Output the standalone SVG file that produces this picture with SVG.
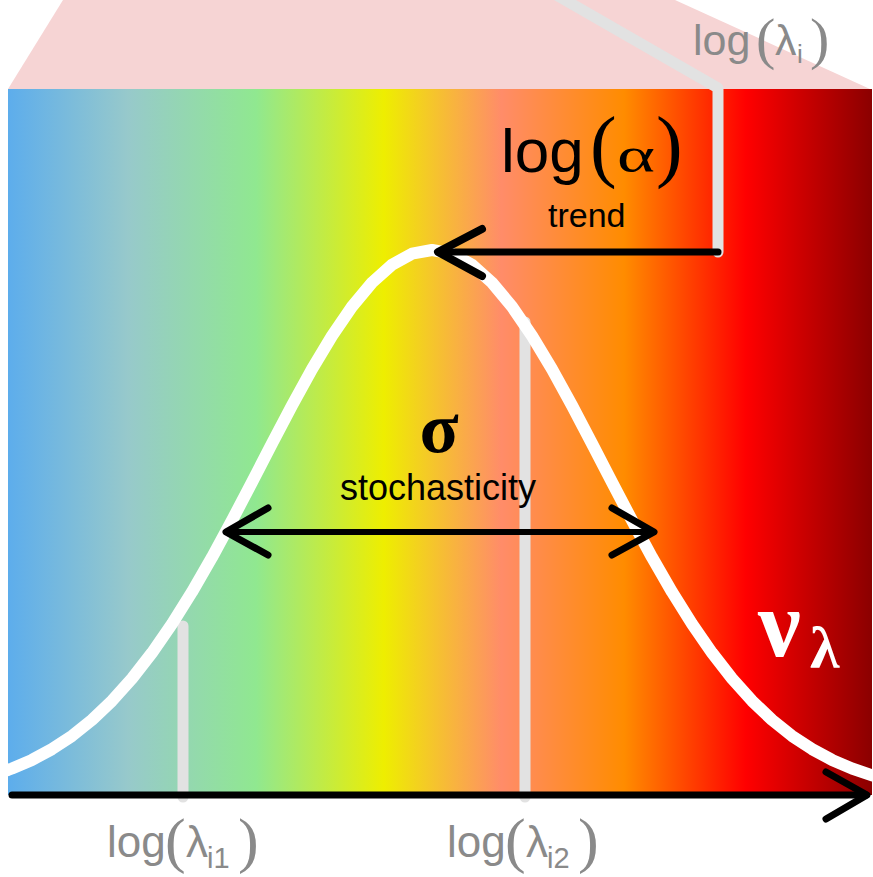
<svg xmlns="http://www.w3.org/2000/svg" width="873" height="877" viewBox="0 0 873 877">
<style>
.sans{font-family:"Liberation Sans",Arial,sans-serif}
.serif{font-family:"Liberation Serif","Times New Roman",serif}
.grey{fill:#8a8a8a}
.blk{fill:#000}
.guide{fill:none;stroke:#e2e2e2;stroke-width:11;stroke-linecap:round;stroke-linejoin:round}
.arrow{fill:none;stroke:#000;stroke-linecap:round;stroke-linejoin:round}
.curve{fill:none;stroke:#fff;stroke-width:12;stroke-linejoin:round}
</style>
<defs>
<linearGradient id="spec" x1="8" y1="0" x2="872" y2="0" gradientUnits="userSpaceOnUse">
<stop offset="0" stop-color="#5DADEC"/>
<stop offset="0.139" stop-color="#97C9CB"/>
<stop offset="0.287" stop-color="#90E890"/>
<stop offset="0.435" stop-color="#EEEE00"/>
<stop offset="0.571" stop-color="#FF8C69"/>
<stop offset="0.713" stop-color="#FF8C00"/>
<stop offset="0.854" stop-color="#FF0000"/>
<stop offset="1" stop-color="#8B0000"/>
</linearGradient>
<clipPath id="clip"><rect x="8" y="89" width="864" height="706"/></clipPath>
</defs>
<g id="background">
<polygon points="8,89 63,0 675,0 870,89" fill="#F6D4D4"/>
<rect x="8" y="89" width="864" height="706" fill="url(#spec)"/>
</g>
<g id="connectors">
<polyline class="guide" points="558,-4 718,88 718,252"/>
<line class="guide" x1="183" y1="626" x2="183" y2="797"/>
<line class="guide" x1="525" y1="322" x2="525" y2="797"/>
</g>
<g id="curve" clip-path="url(#clip)">
<path class="curve" d="M2,772 L8,770 L12,768.5 L32,759.9 L52,749.1 L72,735.9 L92,719.9 L112,700.8 L132,678.5 L152,652.8 L172,623.9 L192,591.9 L212,557.3 L232,520.4 L252,482.2 L272,443.6 L292,405.5 L312,369.2 L332,335.9 L352,306.6 L372,282.6 L392,264.7 L412,253.7 L432,250 L452,253.7 L472,264.7 L492,282.6 L512,306.6 L532,335.9 L552,369.2 L572,405.5 L592,443.6 L612,482.2 L632,520.4 L652,557.3 L672,591.9 L692,623.9 L712,652.8 L732,678.5 L752,700.8 L772,719.9 L792,735.9 L812,749.1 L832,759.9 L852,768.5 L872,775.3 L880,777"/>
</g>
<g id="arrows">
<g id="trend-arrow">
<line class="arrow" stroke-width="7" x1="718" y1="252" x2="440" y2="252"/>
<polyline class="arrow" stroke-width="8" points="482,229 438,252 482,276"/>
</g>
<g id="sigma-arrow">
<line class="arrow" stroke-width="6" x1="228" y1="532" x2="653" y2="532"/>
<polyline class="arrow" stroke-width="7" points="268,508 226,532 268,555"/>
<polyline class="arrow" stroke-width="7" points="612,508 654,532 612,555"/>
</g>
<g id="axis">
<line class="arrow" stroke-width="7" x1="12" y1="795" x2="866" y2="795"/>
<polyline class="arrow" stroke-width="7" points="826,772 867,795 826,819"/>
</g>
</g>
<g id="label-lambda-i">
<text class="sans grey" font-size="43"><tspan x="693" y="55">log</tspan><tspan class="serif" font-size="58" x="756" y="58">(</tspan><tspan x="775" y="55">λ</tspan><tspan font-size="26" x="797" y="63">i</tspan><tspan class="serif" font-size="58" x="810" y="58">)</tspan></text>
</g>
<g id="label-alpha">
<text class="blk" font-size="62"><tspan class="sans" x="501" y="172">log</tspan><tspan class="serif" font-size="80" x="590" y="172">(</tspan><tspan class="serif" font-size="50" x="617" y="172" textLength="38" lengthAdjust="spacingAndGlyphs">α</tspan><tspan class="serif" font-size="80" x="656" y="172">)</tspan></text>
<text class="sans blk" x="548" y="227" font-size="34">trend</text>
</g>
<g id="label-sigma">
<text class="serif blk" x="439" y="452" font-size="72" font-weight="bold" text-anchor="middle">σ</text>
<text class="sans blk" x="340" y="500" font-size="36">stochasticity</text>
</g>
<g id="label-nu">
<text class="serif" fill="#fff" font-weight="bold"><tspan x="758" y="656" font-size="96">ν</tspan><tspan x="810" y="668" font-size="60">λ</tspan></text>
</g>
<g id="label-lambda-i1">
<text class="sans grey" font-size="44"><tspan x="107" y="857">log</tspan><tspan class="serif" font-size="62" x="165" y="861">(</tspan><tspan x="186" y="857">λ</tspan><tspan font-size="29" x="207" y="868">i1</tspan><tspan class="serif" font-size="62" x="238" y="861">)</tspan></text>
</g>
<g id="label-lambda-i2">
<text class="sans grey" font-size="44"><tspan x="447" y="857">log</tspan><tspan class="serif" font-size="62" x="505" y="861">(</tspan><tspan x="526" y="857">λ</tspan><tspan font-size="29" x="547" y="868">i2</tspan><tspan class="serif" font-size="62" x="578" y="861">)</tspan></text>
</g>
</svg>
